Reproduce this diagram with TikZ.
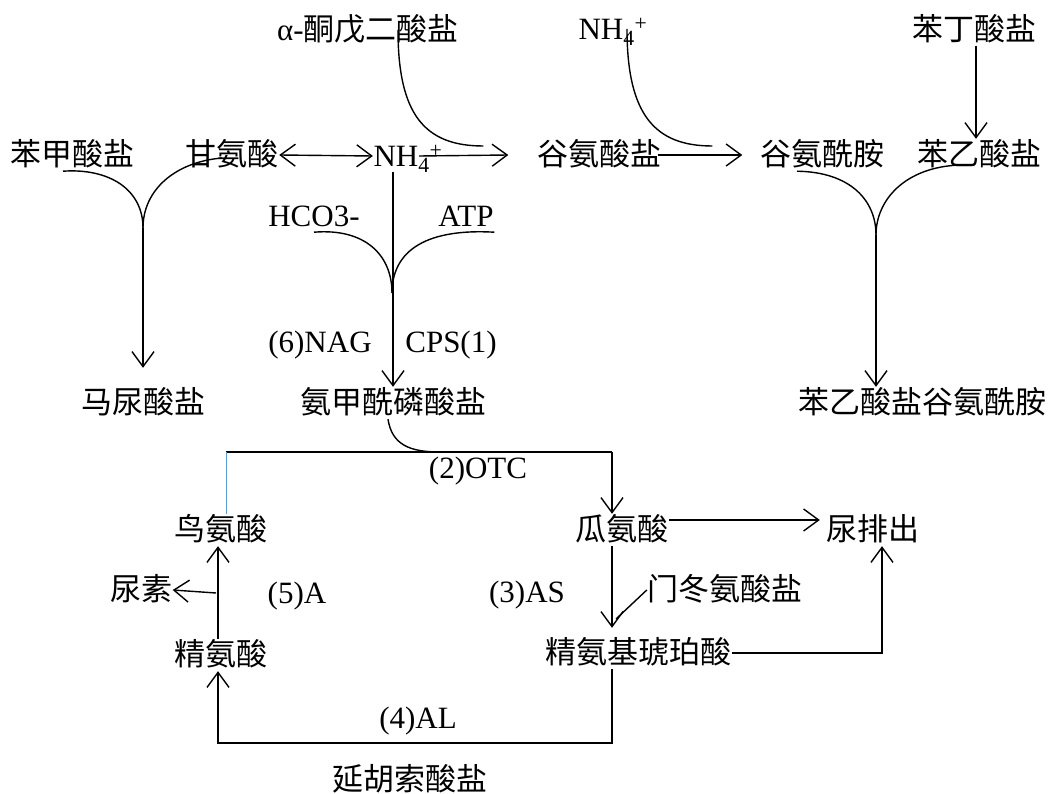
\documentclass[tikz,border=0pt]{standalone}
\usepackage{fontspec}
\setmainfont{Liberation Serif}
\newfontfamily\cjk{Noto Sans CJK SC}
\usepackage{tikz}
\usetikzlibrary{arrows.meta,positioning}
\usepackage{xcolor}
\definecolor{lineblue}{RGB}{91,155,213}

\begin{document}
\begin{tikzpicture}[x=1pt,y=-1pt,line width=1.4pt,
  >={Straight Barb[length=15pt,width=22pt]},
  chem/.style={inner sep=0pt, text height=26pt, text depth=5pt, font=\fontsize{31}{36}\selectfont}]
\useasboundingbox (0,0) rectangle (1061,794);

% top row
\node [chem] (akg) at (368,30) {α-{\cjk 酮戊二酸盐}};
\node [chem] (nhTop) at (613,29) {NH\textsubscript{4}\textsuperscript{+}};
\node [chem] (phbu) at (974,30) {\cjk 苯丁酸盐};

\node [chem] (benzo) at (72,155) {\cjk 苯甲酸盐};
\node [chem] (gly) at (232,155) {\cjk 甘氨酸};
\node [chem] (nhMid) at (408,156) {NH\textsubscript{4}\textsuperscript{+}};
\node [chem] (glu) at (599,155) {\cjk 谷氨酸盐};
\node [chem] (gln) at (822,155) {\cjk 谷氨酰胺};
\node [chem] (phac) at (979,155) {\cjk 苯乙酸盐};

\node [chem] (hco) at (314,216) {HCO3-};
\node [chem] (atp) at (466,216) {ATP};
\node [chem] (nag) at (320,342) {(6)NAG};
\node [chem] (cps) at (451,342) {CPS(1)};

\node [chem] (hip) at (143,403) {\cjk 马尿酸盐};
\node [chem] (cp) at (393,403) {\cjk 氨甲酰磷酸盐};
\node [chem] (pagn) at (922,403) {\cjk 苯乙酸盐谷氨酰胺};

% urea cycle
\node [chem] (otc) at (478,468) {(2)OTC};
\node [chem] (orn) at (221,530) {\cjk 鸟氨酸};
\node [chem] (cit) at (622,530) {\cjk 瓜氨酸};
\node [chem] (urine) at (873,530) {\cjk 尿排出};
\node [chem] (urea) at (141,590) {\cjk 尿素};
\node [chem] (fiveA) at (297,593) {(5)A};
\node [chem] (threeAS) at (527,592) {(3)AS};
\node [chem] (asp) at (725,590) {\cjk 门冬氨酸盐};
\node [chem] (arg) at (221,655) {\cjk 精氨酸};
\node [chem] (asa) at (638,653) {\cjk 精氨基琥珀酸};
\node [chem] (fourAL) at (418,718) {(4)AL};
\node [chem] (fum) at (410,780) {\cjk 延胡索酸盐};

\coordinate (jL) at (143,228);
\coordinate (jM) at (392,293);
\coordinate (jR) at (876,235);
\coordinate (cpOut) at (440,452);
\coordinate (topL) at (226,452);
\coordinate (topR) at (612,452);
\coordinate (botY) at (612,743);
\coordinate (aspEnd) at (616,619);
\coordinate (ureaFrom) at (216,593);

% ammonia in
\draw [<->] (gly.east) -- (nhMid.west);
\draw [->] ([xshift=-24pt]nhMid.east) -- ([xshift=-28pt]glu.west);
\draw ([xshift=30pt]akg.center) .. controls (398,115) and (425,146) .. ([xshift=-53pt,yshift=9pt]glu.west);
\draw ([xshift=14pt]nhTop.center) .. controls (627,115) and (655,146) .. ([xshift=-47pt,yshift=9pt]gln.west);
\draw [->] ([xshift=-4pt]glu.east) -- ([xshift=-17pt]gln.west);
\draw [->] ([xshift=2pt]phbu.south) -- ([xshift=-3pt]phac.north);

% junctions
\draw ([xshift=-9pt]benzo.south) .. controls (110,168) and (143,190) .. (jL);
\draw ([xshift=-10pt,yshift=-3pt]gly.center) .. controls (175,162) and (143,190) .. (jL);
\draw [->,shorten >=19pt] (jL) -- (hip.north);

\draw (hco.south) .. controls (365,228) and (392,255) .. (jM);
\draw (atp.south east) .. controls (420,228) and (392,255) .. (jM);
\draw [->] (cp.north |- nhMid.south) -- (cp.north);

\draw ([xshift=-25pt]gln.south) .. controls (850,172) and (876,200) .. (jR);
\draw ([xshift=-19pt,yshift=-10pt]phac.center) .. controls (905,167) and (876,200) .. (jR);
\draw [->] (jR) -- (jR |- pagn.north);

% cycle
\draw ([xshift=-5pt]cp.south) .. controls (392,445) and (410,452) .. (cpOut);
\draw (topL) -- (topR);
\draw [lineblue,line width=1pt] (topL) -- (topL |- orn.north);
\draw [->] (topR) -- (topR |- cit.north);
\draw [->] ([yshift=10pt]cit.east) -- ([xshift=-6pt,yshift=10pt]urine.west);
\draw [->,shorten >=9pt] (topR |- cit.south) -- (topR |- asa.north);
\draw (asp.west) -- (aspEnd);
\draw [->] (asa.east) -| ([xshift=9pt]urine.south);
\draw [->] (topR |- asa.south) -- (botY) -| ([xshift=-3pt]arg.south);
\draw [->] ([xshift=-3pt]arg.north) -- ([xshift=-3pt]orn.south);
\draw [->] (ureaFrom) -- (urea.east);

\end{tikzpicture}
\end{document}
